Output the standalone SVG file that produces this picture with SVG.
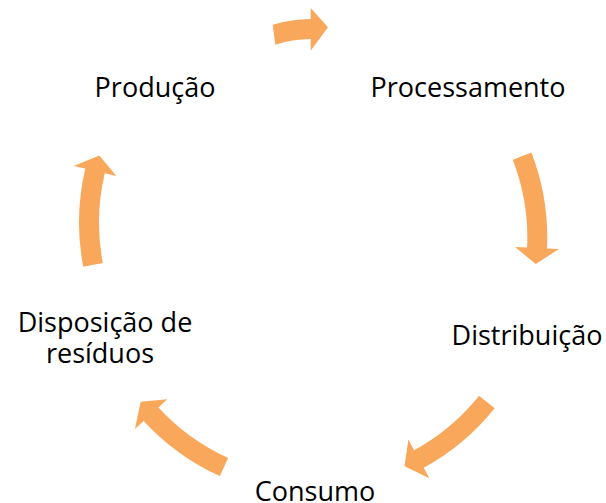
<svg xmlns="http://www.w3.org/2000/svg" width="606" height="503" viewBox="0 0 606 503">
<style>
.lbl{font-family:"Open Sans","Liberation Sans",sans-serif;font-size:27px;fill:#000;text-anchor:middle}
.arr{fill:#F9A85B;stroke:none}
</style>
<rect width="606" height="503" fill="#fff"/>
<g id="connectors">
<path class="arr" d="M272.7,24.7 A135 135 0 0 1 310.7,19 L310.7,8 L328,27.3 L310.7,50.7 L310.7,39 A115 115 0 0 0 275.3,44.7 Z"/>
<path class="arr" d="M531.4,152.4 A235 235 0 0 1 547.0,248.5 L559.0,249.0 L535.7,264.0 L515.1,247.0 L527.1,247.5 A215 215 0 0 0 512.7,159.7 Z"/>
<path class="arr" d="M494.7,408.2 A235 235 0 0 1 423.7,467.7 L429.4,478.3 L404.5,466.2 L408.4,439.6 L414.1,450.2 A215 215 0 0 0 479.1,395.7 Z"/>
<path class="arr" d="M219.9,476.1 A235 235 0 0 1 143.7,420.9 L134.9,429.0 L140.7,401.8 L167.3,399.2 L158.5,407.4 A215 215 0 0 0 228.2,457.9 Z"/>
<path class="arr" d="M83.2,266.7 A235 235 0 0 1 85.3,168.6 L73.6,165.9 L99.3,155.4 L116.4,176.0 L104.8,173.2 A215 215 0 0 0 102.8,263.0 Z"/>
</g>
<g id="node-producao"><text class="lbl" x="155" y="97">Produção</text></g>
<g id="node-processamento"><text class="lbl" x="468" y="97">Processamento</text></g>
<g id="node-distribuicao"><text class="lbl" x="527" y="345">Distribuição</text></g>
<g id="node-consumo"><text class="lbl" x="315" y="501">Consumo</text></g>
<g id="node-disposicao"><text class="lbl" x="105" y="332">Disposição de</text><text class="lbl" x="100" y="363">resíduos</text></g>
</svg>
